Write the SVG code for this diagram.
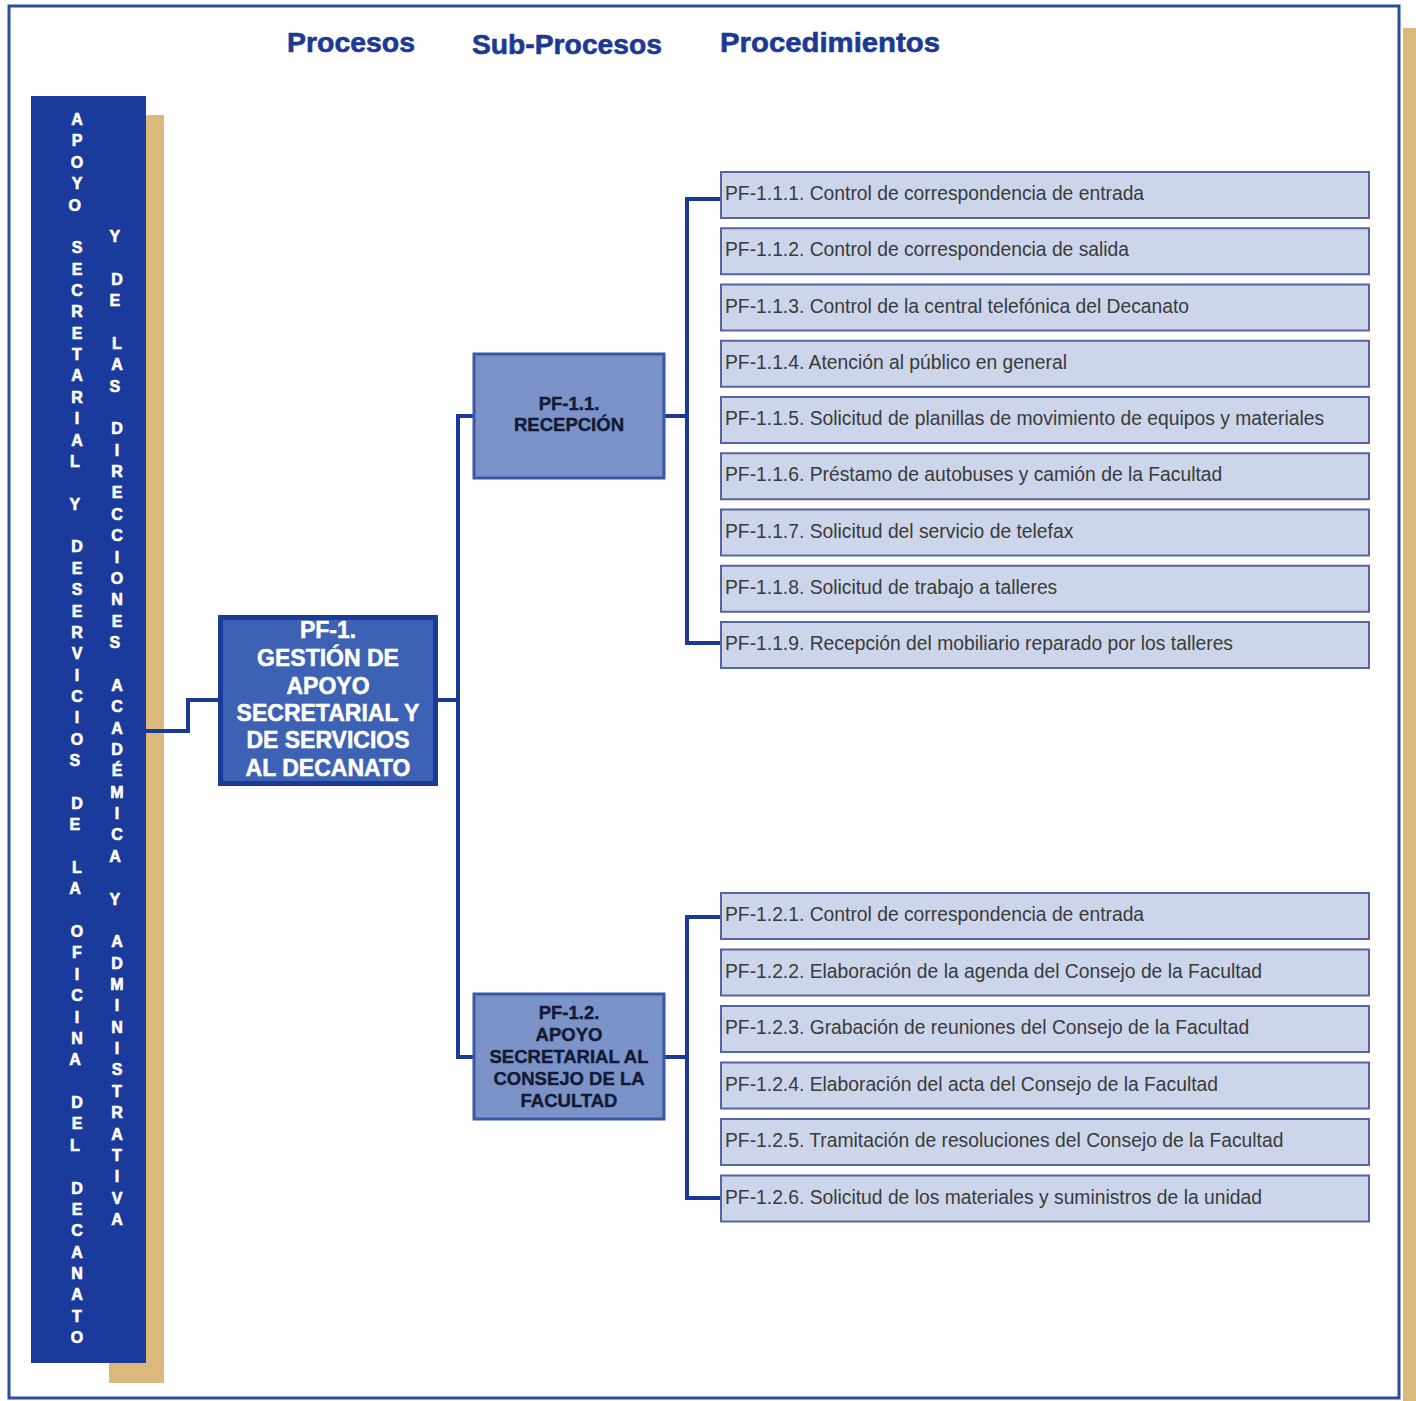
<svg xmlns="http://www.w3.org/2000/svg" width="1416" height="1401" viewBox="0 0 1416 1401">
<style>
.hdr{font-family:"Liberation Sans",Arial,sans-serif;font-weight:bold;font-size:28px;fill:#1c3a94;stroke:#1c3a94;stroke-width:0.6}
.vt{font-family:"Liberation Sans",Arial,sans-serif;font-weight:bold;font-size:16px;fill:#ffffff;stroke:#ffffff;stroke-width:0.6;text-anchor:middle}
.main{font-family:"Liberation Sans",Arial,sans-serif;font-weight:bold;font-size:23px;fill:#ffffff;stroke:#ffffff;stroke-width:0.5;text-anchor:middle}
.sub{font-family:"Liberation Sans",Arial,sans-serif;font-weight:bold;font-size:18.5px;fill:#141a33;stroke:#141a33;stroke-width:0.4;text-anchor:middle}
.proc rect{fill:#cdd5ea;stroke:#56649f;stroke-width:2}
.proc text{font-family:"Liberation Sans",Arial,sans-serif;font-size:19.3px;fill:#3a3a3a}
.subbox{fill:#7b93c9;stroke:#3b58a6;stroke-width:3}
.conn{fill:none;stroke:#1a3a9a;stroke-width:4}
</style>
<rect x="0" y="0" width="1416" height="1401" fill="#ffffff"/>
<rect x="1403" y="28" width="13" height="1373" fill="#dbb97c"/>
<rect x="9" y="6" width="1390" height="1392" fill="#ffffff" stroke="#2c4c9e" stroke-width="3"/>

<g id="headers">
<text class="hdr" x="287" y="52" textLength="128" lengthAdjust="spacingAndGlyphs">Procesos</text>
<text class="hdr" x="472" y="54" textLength="190" lengthAdjust="spacingAndGlyphs">Sub-Procesos</text>
<text class="hdr" x="720" y="52" textLength="220" lengthAdjust="spacingAndGlyphs">Procedimientos</text>
</g>

<g id="side-bar">
<rect x="109" y="115" width="55" height="1268" fill="#dbb97c"/>
<rect x="31" y="96" width="115" height="1267" fill="#1a3a9c"/>
<text class="vt"><tspan x="77" y="125">A</tspan><tspan x="77" y="146.4">P</tspan><tspan x="77" y="167.7">O</tspan><tspan x="77" y="189.1">Y</tspan><tspan x="77" y="210.5">O</tspan> <tspan x="77" y="253.2">S</tspan><tspan x="77" y="274.6">E</tspan><tspan x="77" y="296">C</tspan><tspan x="77" y="317.3">R</tspan><tspan x="77" y="338.7">E</tspan><tspan x="77" y="360.1">T</tspan><tspan x="77" y="381.4">A</tspan><tspan x="77" y="402.8">R</tspan><tspan x="77" y="424.2">I</tspan><tspan x="77" y="445.6">A</tspan><tspan x="77" y="466.9">L</tspan> <tspan x="77" y="509.7">Y</tspan> <tspan x="77" y="552.4">D</tspan><tspan x="77" y="573.8">E</tspan><tspan x="77" y="595.1">S</tspan><tspan x="77" y="616.5">E</tspan><tspan x="77" y="637.9">R</tspan><tspan x="77" y="659.3">V</tspan><tspan x="77" y="680.6">I</tspan><tspan x="77" y="702">C</tspan><tspan x="77" y="723.4">I</tspan><tspan x="77" y="744.7">O</tspan><tspan x="77" y="766.1">S</tspan> <tspan x="77" y="808.8">D</tspan><tspan x="77" y="830.2">E</tspan> <tspan x="77" y="873">L</tspan><tspan x="77" y="894.3">A</tspan> <tspan x="77" y="937.1">O</tspan><tspan x="77" y="958.4">F</tspan><tspan x="77" y="979.8">I</tspan><tspan x="77" y="1001.2">C</tspan><tspan x="77" y="1022.5">I</tspan><tspan x="77" y="1043.9">N</tspan><tspan x="77" y="1065.3">A</tspan> <tspan x="77" y="1108">D</tspan><tspan x="77" y="1129.4">E</tspan><tspan x="77" y="1150.8">L</tspan> <tspan x="77" y="1193.5">D</tspan><tspan x="77" y="1214.9">E</tspan><tspan x="77" y="1236.2">C</tspan><tspan x="77" y="1257.6">A</tspan><tspan x="77" y="1279">N</tspan><tspan x="77" y="1300.4">A</tspan><tspan x="77" y="1321.7">T</tspan><tspan x="77" y="1343.1">O</tspan></text>
<text class="vt"><tspan x="117" y="242">Y</tspan> <tspan x="117" y="284.7">D</tspan><tspan x="117" y="306.1">E</tspan> <tspan x="117" y="348.9">L</tspan><tspan x="117" y="370.2">A</tspan><tspan x="117" y="391.6">S</tspan> <tspan x="117" y="434.3">D</tspan><tspan x="117" y="455.7">I</tspan><tspan x="117" y="477.1">R</tspan><tspan x="117" y="498.4">E</tspan><tspan x="117" y="519.8">C</tspan><tspan x="117" y="541.2">C</tspan><tspan x="117" y="562.6">I</tspan><tspan x="117" y="583.9">O</tspan><tspan x="117" y="605.3">N</tspan><tspan x="117" y="626.7">E</tspan><tspan x="117" y="648">S</tspan> <tspan x="117" y="690.8">A</tspan><tspan x="117" y="712.1">C</tspan><tspan x="117" y="733.5">A</tspan><tspan x="117" y="754.9">D</tspan><tspan x="117" y="776.2">É</tspan><tspan x="117" y="797.6">M</tspan><tspan x="117" y="819">I</tspan><tspan x="117" y="840.4">C</tspan><tspan x="117" y="861.7">A</tspan> <tspan x="117" y="904.5">Y</tspan> <tspan x="117" y="947.2">A</tspan><tspan x="117" y="968.6">D</tspan><tspan x="117" y="990">M</tspan><tspan x="117" y="1011.3">I</tspan><tspan x="117" y="1032.7">N</tspan><tspan x="117" y="1054.1">I</tspan><tspan x="117" y="1075.4">S</tspan><tspan x="117" y="1096.8">T</tspan><tspan x="117" y="1118.2">R</tspan><tspan x="117" y="1139.6">A</tspan><tspan x="117" y="1160.9">T</tspan><tspan x="117" y="1182.3">I</tspan><tspan x="117" y="1203.7">V</tspan><tspan x="117" y="1225">A</tspan></text>
</g>

<g id="connectors">
<polyline class="conn" points="146,731 188,731 188,700 218,700"/>
<polyline class="conn" points="438,700 458,700"/>
<polyline class="conn" points="473,416 458,416 458,1057 473,1057"/>
<polyline class="conn" points="665,416 687,416"/>
<polyline class="conn" points="721,199 687,199 687,643 721,643"/>
<polyline class="conn" points="665,1057 687,1057"/>
<polyline class="conn" points="721,917 687,917 687,1198 721,1198"/>
</g>

<g id="pf-1">
<rect x="218" y="615" width="220" height="171" fill="#1a3a9a"/>
<rect x="223" y="620" width="210" height="161" fill="#3d62b4"/>
<text class="main"><tspan x="328" y="638">PF-1.</tspan><tspan x="328" y="666">GESTIÓN DE</tspan><tspan x="328" y="694">APOYO</tspan><tspan x="328" y="721">SECRETARIAL Y</tspan><tspan x="328" y="748">DE SERVICIOS</tspan><tspan x="328" y="776">AL DECANATO</tspan></text>
</g>

<g id="pf-1-1">
<rect class="subbox" x="474" y="354" width="190" height="124"/>
<text class="sub"><tspan x="569" y="410">PF-1.1.</tspan><tspan x="569" y="431">RECEPCIÓN</tspan></text>
</g>

<g id="pf-1-2">
<rect class="subbox" x="474" y="994" width="190" height="125"/>
<text class="sub"><tspan x="569" y="1019">PF-1.2.</tspan><tspan x="569" y="1041">APOYO</tspan><tspan x="569" y="1063">SECRETARIAL AL</tspan><tspan x="569" y="1085">CONSEJO DE LA</tspan><tspan x="569" y="1107">FACULTAD</tspan></text>
</g>

<g id="pf-1-1-1" class="proc"><rect x="721" y="172" width="648" height="46"/><text x="725" y="200">PF-1.1.1. Control de correspondencia de entrada</text></g>
<g id="pf-1-1-2" class="proc"><rect x="721" y="228.25" width="648" height="46"/><text x="725" y="256.25">PF-1.1.2. Control de correspondencia de salida</text></g>
<g id="pf-1-1-3" class="proc"><rect x="721" y="284.5" width="648" height="46"/><text x="725" y="312.5">PF-1.1.3. Control de la central telefónica del Decanato</text></g>
<g id="pf-1-1-4" class="proc"><rect x="721" y="340.75" width="648" height="46"/><text x="725" y="368.75">PF-1.1.4. Atención al público en general</text></g>
<g id="pf-1-1-5" class="proc"><rect x="721" y="397" width="648" height="46"/><text x="725" y="425">PF-1.1.5. Solicitud de planillas de movimiento de equipos y materiales</text></g>
<g id="pf-1-1-6" class="proc"><rect x="721" y="453.25" width="648" height="46"/><text x="725" y="481.25">PF-1.1.6. Préstamo de autobuses y camión de la Facultad</text></g>
<g id="pf-1-1-7" class="proc"><rect x="721" y="509.5" width="648" height="46"/><text x="725" y="537.5">PF-1.1.7. Solicitud del servicio de telefax</text></g>
<g id="pf-1-1-8" class="proc"><rect x="721" y="565.75" width="648" height="46"/><text x="725" y="593.75">PF-1.1.8. Solicitud de trabajo a talleres</text></g>
<g id="pf-1-1-9" class="proc"><rect x="721" y="622" width="648" height="46"/><text x="725" y="650">PF-1.1.9. Recepción del mobiliario reparado por los talleres</text></g>

<g id="pf-1-2-1" class="proc"><rect x="721" y="893" width="648" height="46"/><text x="725" y="921">PF-1.2.1. Control de correspondencia de entrada</text></g>
<g id="pf-1-2-2" class="proc"><rect x="721" y="949.5" width="648" height="46"/><text x="725" y="977.5">PF-1.2.2. Elaboración de la agenda del Consejo de la Facultad</text></g>
<g id="pf-1-2-3" class="proc"><rect x="721" y="1006" width="648" height="46"/><text x="725" y="1034">PF-1.2.3. Grabación de reuniones del Consejo de la Facultad</text></g>
<g id="pf-1-2-4" class="proc"><rect x="721" y="1062.5" width="648" height="46"/><text x="725" y="1090.5">PF-1.2.4. Elaboración del acta del Consejo de la Facultad</text></g>
<g id="pf-1-2-5" class="proc"><rect x="721" y="1119" width="648" height="46"/><text x="725" y="1147">PF-1.2.5. Tramitación de resoluciones del Consejo de la Facultad</text></g>
<g id="pf-1-2-6" class="proc"><rect x="721" y="1175.5" width="648" height="46"/><text x="725" y="1203.5">PF-1.2.6. Solicitud de los materiales y suministros de la unidad</text></g>
</svg>
